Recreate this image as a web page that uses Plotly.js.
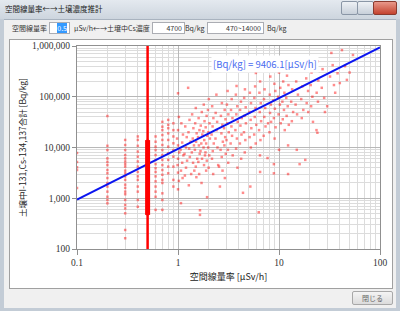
<!DOCTYPE html>
<html><head><meta charset="utf-8">
<script src="https://cdn.plot.ly/plotly-3.0.1.min.js"></script>
<style>
html,body{margin:0;padding:0;width:400px;height:311px;overflow:hidden;background:#c3ccd6;font-family:"Noto Sans CJK JP",sans-serif;}
.abs{position:absolute;}
#titlebar{left:0;top:0;width:400px;height:19px;background:linear-gradient(#e4e9ef,#cdd5de);}
#ttext{left:5px;top:3px;font-size:7.5px;color:#222;white-space:nowrap;}
.wb{top:1px;height:12px;border:1px solid #8a96a6;border-radius:2px;background:linear-gradient(#eef1f5,#c8d0da);}
#bclose{background:linear-gradient(#e8988a,#c4432f);border-color:#8a3a2e;}
#client{left:4px;top:19px;width:392px;height:288px;background:#f0f0f0;border-top:1px solid #a9b3bf;}
.lbl{font-size:7px;color:#333;white-space:nowrap;}
.box{height:10px;background:#fff;border:1px solid #abadb3;font-size:7px;color:#333;text-align:right;line-height:10px;padding-right:2px;box-sizing:content-box;}
#panel{left:9px;top:39px;width:382px;height:248px;background:#fff;border:1px solid #a0a0a0;}
#close{left:352px;top:291px;width:39px;height:12px;border:1px solid #a8a8a8;border-radius:2px;background:linear-gradient(#f4f4f4,#dcdcdc);font-size:7px;color:#666;text-align:center;line-height:12px;}
#plot{left:0;top:0;width:400px;height:311px;}
</style></head>
<body>
<div id="titlebar" class="abs"></div>
<div id="ttext" class="abs">空間線量率←→土壌濃度推計</div>
<div class="abs wb" style="left:341px;width:15px;"></div>
<div class="abs wb" style="left:357px;width:15px;"></div>
<div class="abs wb" id="bclose" style="left:373px;width:22px;"></div>
<div id="client" class="abs"></div>
<div class="abs lbl" style="left:12px;top:23px;">空間線量率</div>
<div class="abs box" style="left:49px;top:22px;width:17px;"><span style="background:#3399ff;color:#fff;">0.5</span></div>
<div class="abs lbl" style="left:74px;top:23px;">μSv/h←→土壌中Cs濃度</div>
<div class="abs box" style="left:152px;top:22px;width:29px;">4700</div>
<div class="abs lbl" style="left:185px;top:23px;">Bq/kg</div>
<div class="abs box" style="left:207px;top:22px;width:53px;">470~14000</div>
<div class="abs lbl" style="left:267px;top:23px;">Bq/kg</div>
<div id="panel" class="abs"></div>
<div id="close" class="abs">閉じる</div>
<div id="plot" class="abs"></div>
<script>
// ---- data ----
const selectedDose = 0.5;          // μSv/h (input box)
const rangeLow = 470;              // Bq/kg
const rangeHigh = 14000;           // Bq/kg
const fitLabel = '[Bq/kg] = 9406.1[μSv/h]';
const fitDose = [0.1, 100];
const fitConc = [940.61, 940610];

const columnDoses = [0.1, 0.2, 0.3, 0.4, 0.5, 0.6, 0.7, 0.8, 0.9];
const columnConcs = [
  [7800, 5200, 4100, 3600, 1600],
  [41700, 10800, 8900, 6100, 5200, 4500, 3600, 3100, 2500, 2000, 1700, 1350, 1070, 925, 795],
  [14100, 11200, 8900, 7100, 6100, 5300, 4700, 4200, 3500, 3100, 2700, 2300, 1850, 1600, 1350, 1200, 925, 740, 630, 505, 237, 163],
  [16500, 14100, 10800, 8300, 6600, 5300, 4200, 3300, 2700, 2300, 1700, 1350, 925, 680],
  [14000, 12000, 10000, 8500, 7000, 6000, 5000, 4200, 3500, 3000, 2500, 2000, 1600, 1300, 1000, 800, 650, 550, 470],
  [16500, 13000, 10400, 8900, 7100, 5700, 4700, 3900, 3300, 2700, 2150, 1700, 1350, 1070, 590],
  [32000, 25700, 22000, 17600, 14100, 11200, 8900, 7100, 5700, 4500, 3600, 2900, 2300, 2000, 1250, 925, 590],
  [35000, 28000, 24000, 19000, 14100, 10400, 7700, 5700, 4200, 3100],
  [30000, 22000, 16500, 12100, 8900, 6600, 4200, 2300, 1700]
];

const band1 = [ // 1 - 2 μSv/h
  [1.0,117000],[1.02,40000],[1.0,22000],[0.98,15000],[1.0,11000],[1.03,8000],[1.0,6000],[0.99,4500],[1.0,3200],[1.02,2200],[1.0,1500],
  [1.08,30000],[1.12,18000],[1.1,12500],[1.06,9000],[1.13,7000],[1.1,5000],[1.07,3500],[1.11,2500],[1.07,800],
  [1.18,26000],[1.22,16000],[1.2,10000],[1.16,7500],[1.23,5500],[1.2,4000],[1.17,2800],[1.26,150000],
  [1.3,35000],[1.27,20000],[1.33,13000],[1.29,9500],[1.31,6500],[1.35,3000],[1.28,1800],
  [1.38,45000],[1.42,24000],[1.4,15000],[1.44,11000],[1.37,8000],[1.41,5000],[1.45,3500],
  [1.5,60000],[1.48,30000],[1.53,19000],[1.51,13000],[1.47,9000],[1.55,6000],[1.5,4200],[1.52,2600],
  [1.65,580],[1.65,470],[1.6,38000],[1.63,22000],[1.58,16000],[1.61,11000],[1.64,7500],[1.59,5200],[1.62,3000],
  [1.72,50000],[1.68,27000],[1.74,18000],[1.7,12000],[1.67,8500],[1.73,6000],[1.71,2000],
  [1.8,70000],[1.83,33000],[1.78,21000],[1.82,14000],[1.79,10000],[1.85,7000],[1.81,4500],
  [1.94,1050],[1.92,42000],[1.88,25000],[1.95,17000],[1.9,12000],[1.87,8000],[1.93,5500],[1.9,3500]
];
const band2 = [ // 2 - 5 μSv/h
  [2.02,90000],[1.98,55000],[2.05,30000],[2.0,20000],[2.07,15000],[1.99,10000],[2.04,7000],[2.01,4000],
  [2.18,65000],[2.24,38000],[2.2,26000],[2.15,18000],[2.26,12000],[2.21,8500],[2.17,6000],[2.23,3000],
  [2.4,110000],[2.36,48000],[2.44,32000],[2.41,22000],[2.35,15000],[2.46,10000],[2.5,4500],[2.55,4200],[2.6,1700],
  [2.72,75000],[2.66,42000],[2.75,28000],[2.69,19000],[2.78,13000],[2.64,9000],[2.71,6500],[2.76,3500],
  [2.9,55000],[2.95,36000],[2.86,24000],[2.93,16000],[2.88,11000],[2.97,7500],[2.91,2500],
  [3.1,130000],[3.05,70000],[3.15,45000],[3.08,30000],[3.18,20000],[3.02,14000],[3.12,9000],[3.14,5000],
  [3.4,90000],[3.35,55000],[3.46,38000],[3.38,26000],[3.43,17000],[3.32,12000],[3.48,7000],
  [3.8,163000],[3.74,110000],[3.86,65000],[3.78,45000],[3.9,32000],[3.7,22000],[3.83,15000],[3.76,9500],[3.88,4000],
  [4.2,80000],[4.12,55000],[4.28,38000],[4.15,27000],[4.25,18000],[4.1,12000],[4.22,6000],
  [4.4,1280],[4.6,140000],[4.52,95000],[4.68,62000],[4.55,42000],[4.7,30000],[4.5,20000],[4.64,14000],[4.58,8000]
];
const band3 = [ // 5 - 15 μSv/h
  [5.2,1700],[5.15,120000],[5.28,75000],[5.1,50000],[5.24,35000],[5.32,24000],[5.12,16000],[5.26,10000],
  [5.9,294000],[5.8,160000],[5.7,95000],[5.85,60000],[5.75,40000],[5.95,28000],[5.68,18000],[5.88,12000],
  [6.3,530],[6.5,3300],[6.5,200000],[6.4,120000],[6.6,75000],[6.45,50000],[6.65,33000],[6.35,22000],[6.55,14000],[6.48,7000],
  [7.2,140000],[7.1,90000],[7.3,60000],[7.15,40000],[7.35,26000],[7.05,17000],[7.7,6200],[7.8,30000],
  [8.2,250000],[8.1,110000],[8.3,70000],[8.15,48000],[8.35,32000],[8.05,20000],[8.9,4700],[8.9,3100],
  [9.0,180000],[9.2,130000],[8.8,85000],[9.1,58000],[8.9,38000],[9.25,25000],[9.05,15000],[9.7,440000],
  [10,300000],[10.3,150000],[9.8,100000],[10.2,70000],[9.9,45000],[10.4,30000],[10,9000],
  [11,200000],[11.3,120000],[10.8,80000],[11.2,55000],[10.9,36000],[11.4,22000],
  [12.3,11000],[12.3,3000],[12,260000],[12.4,170000],[11.8,95000],[12.2,65000],[11.9,42000],[12.5,28000],
  [13.5,140000],[13.2,80000],[13.8,50000],[13.4,33000],
  [15,9000],[15.2,350000],[14.8,200000],[15.4,110000],[14.6,70000],[15.1,45000]
];
const band4 = [ // 15 - 60 μSv/h
  [16,4700],[17,160000],[16.6,90000],[17.4,55000],[16.8,38000],
  [18.2,5700],[19,400000],[18.6,230000],[19.4,130000],[18.8,75000],[19.5,50000],
  [21.7,32000],[21,300000],[20.6,170000],[21.4,100000],[20.8,65000],
  [24,19500],[23.5,22000],[24,500000],[24.5,210000],[23.6,120000],[24.3,80000],
  [27,350000],[26.5,150000],[28.5,50000],[28,95000],
  [33,730000],[34,420000],[32,250000],[35,170000],[38,290000],[40,186000],[42,830000],
  [47,215000],[45,400000],[54,665000],[50,300000],[36,120000],[30,65000]
];

// ---- build traces ----
const px = [], py = [];
columnDoses.forEach((d, i) => columnConcs[i].forEach(c => { px.push(d); py.push(c); }));
[band1, band2, band3, band4].forEach(b => b.forEach(p => { px.push(p[0]); py.push(p[1]); }));

const traces = [
  {x: px, y: py, type: 'scatter', mode: 'markers',
   marker: {symbol: 'square', size: 2.5, color: 'rgba(255,0,0,0.45)', line: {width: 0}}},
  {x: fitDose, y: fitConc, type: 'scatter', mode: 'lines', line: {color: '#0a14f0', width: 2}},
  {x: [selectedDose, selectedDose], y: [100, 1000000], type: 'scatter', mode: 'lines', line: {color: '#ff0000', width: 2.5}},
  {x: [selectedDose, selectedDose], y: [rangeLow, rangeHigh], type: 'scatter', mode: 'lines', line: {color: '#ff0000', width: 5}}
];

const tickFont = {family: 'Liberation Serif, serif', size: 9.5, color: '#333'};
const layout = {
  width: 400, height: 311,
  margin: {l: 77, r: 20, t: 46, b: 62},
  paper_bgcolor: 'rgba(0,0,0,0)', plot_bgcolor: '#ffffff',
  showlegend: false,
  xaxis: {
    type: 'log', range: [-1, 2], dtick: 1, tickfont: tickFont,
    showgrid: true, gridcolor: '#b8b8b8', gridwidth: 1,
    minor: {showgrid: true, gridcolor: '#dcdcdc', dtick: 'D1'},
    showline: true, linecolor: '#909090', mirror: true, zeroline: false,
    ticks: 'outside', ticklen: 5, tickcolor: '#909090',
    title: {text: '空間線量率 [μSv/h]', standoff: 6,
            font: {family: 'Noto Sans CJK JP', size: 9, color: '#222'}}
  },
  yaxis: {
    type: 'log', range: [2, 6], dtick: 1, tickformat: ',d', tickfont: tickFont,
    showgrid: true, gridcolor: '#b8b8b8', gridwidth: 1,
    minor: {showgrid: true, gridcolor: '#dcdcdc', dtick: 'D1'},
    showline: true, linecolor: '#909090', mirror: true, zeroline: false,
    ticks: 'outside', ticklen: 4, tickcolor: '#909090',
    title: {text: '土壌中I-131,Cs-134,137合計 [Bq/kg]', standoff: 4,
            font: {family: 'Noto Sans CJK JP', size: 8.5, color: '#222'}}
  },
  annotations: [{
    text: fitLabel, xref: 'paper', yref: 'paper', x: 0.62, y: 0.956,
    showarrow: false, bgcolor: '#ffffff',
    font: {family: 'Noto Sans CJK JP', size: 9.5, color: '#4a6cf0'}
  }]
};
Plotly.newPlot('plot', traces, layout, {staticPlot: true, displayModeBar: false});
</script>
</body></html>
